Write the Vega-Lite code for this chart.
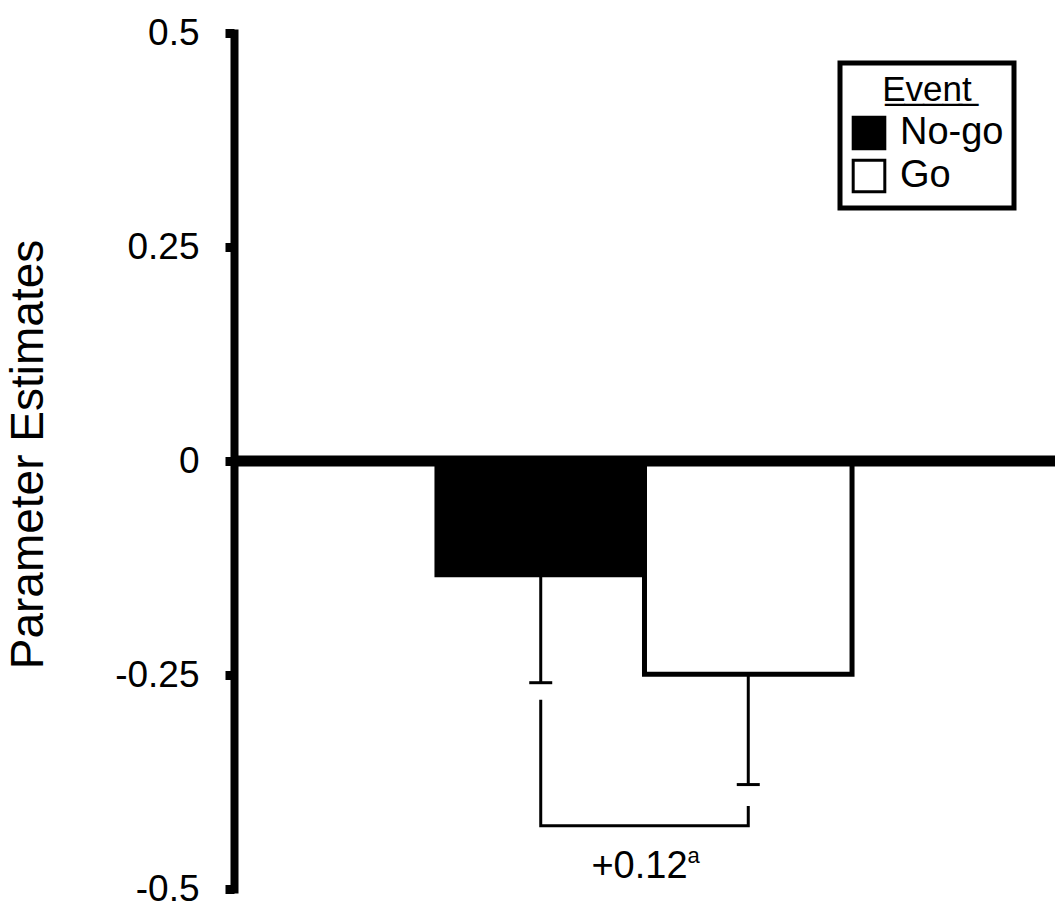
{
  "$schema": "https://vega.github.io/schema/vega-lite/v6.json",
  "width": 821,
  "height": 856,
  "autosize": {"type": "none"},
  "padding": {"left": 234, "top": 33, "right": 0, "bottom": 23},
  "background": "white",
  "config": {
    "font": "Liberation Sans",
    "view": {"stroke": null},
    "axis": {"grid": false},
    "legend": {"strokeWidth": 5}
  },
  "datasets": {
    "bars": [
      {"group": "A", "event": "No-go", "value": -0.133, "lower": -0.259},
      {"group": "A", "event": "Go", "value": -0.249, "lower": -0.378}
    ],
    "bracket": [
      {"group": "A", "event": "No-go", "y": -0.279, "ord": 1},
      {"group": "A", "event": "No-go", "y": -0.426, "ord": 2},
      {"group": "A", "event": "Go", "y": -0.426, "ord": 3},
      {"group": "A", "event": "Go", "y": -0.403, "ord": 4}
    ],
    "note": [
      {"group": "A", "label": "+0.12", "sup": "a"}
    ],
    "zero": [
      {"level": 0}
    ]
  },
  "layer": [
    {
      "data": {"name": "bars"},
      "mark": {"type": "bar", "stroke": "black", "strokeWidth": 5, "strokeJoin": "miter"},
      "encoding": {
        "x": {"field": "group", "type": "nominal", "axis": null, "scale": {"paddingInner": 0, "paddingOuter": 0.489}},
        "xOffset": {"field": "event", "type": "nominal", "sort": ["No-go", "Go"], "scale": {"paddingInner": 0, "paddingOuter": 0}},
        "y": {
          "field": "value",
          "type": "quantitative",
          "scale": {"domain": [-0.5, 0.5], "nice": false, "zero": false},
          "axis": {
            "values": [-0.5, -0.25, 0, 0.25, 0.5],
            "labelExpr": "'' + datum.value",
            "title": "Parameter Estimates",
            "titleFontSize": 46,
            "titleFontWeight": "normal",
            "titleColor": "black",
            "titleX": -192,
            "titleY": 421,
            "titleBaseline": "alphabetic",
            "titleAngle": -90,
            "labelFontSize": 37,
            "labelColor": "black",
            "labelPadding": 26,
            "domainColor": "black",
            "domainWidth": 8,
            "domainCap": "square",
            "tickColor": "black",
            "tickWidth": 9,
            "tickSize": 9
          }
        },
        "fill": {
          "field": "event",
          "type": "nominal",
          "scale": {"domain": ["No-go", "Go"], "range": ["black", "white"]},
          "legend": {
            "title": "E̲v̲e̲n̲t̲",
            "orient": "none",
            "legendX": 606,
            "legendY": 30,
            "strokeColor": "black",
            "padding": 10,
            "titleFontSize": 35,
            "titleFontWeight": "normal",
            "titleColor": "black",
            "titleAnchor": "middle",
            "titlePadding": 6,
            "labelFontSize": 38,
            "labelColor": "black",
            "labelOffset": 12,
            "symbolType": "square",
            "symbolSize": 1000,
            "symbolStrokeColor": "black",
            "symbolStrokeWidth": 3,
            "rowPadding": -1
          }
        }
      }
    },
    {
      "data": {"name": "zero"},
      "mark": {"type": "rule", "color": "black", "strokeWidth": 11},
      "encoding": {"y": {"field": "level", "type": "quantitative"}}
    },
    {
      "data": {"name": "bars"},
      "mark": {"type": "rule", "color": "black", "strokeWidth": 3},
      "encoding": {
        "x": {"field": "group", "type": "nominal"},
        "xOffset": {"field": "event", "type": "nominal", "sort": ["No-go", "Go"]},
        "y": {"field": "value", "type": "quantitative"},
        "y2": {"field": "lower"}
      }
    },
    {
      "data": {"name": "bars"},
      "mark": {"type": "tick", "color": "black", "opacity": 1, "size": 23, "thickness": 3, "orient": "horizontal"},
      "encoding": {
        "x": {"field": "group", "type": "nominal"},
        "xOffset": {"field": "event", "type": "nominal", "sort": ["No-go", "Go"]},
        "y": {"field": "lower", "type": "quantitative"}
      }
    },
    {
      "data": {"name": "bracket"},
      "mark": {"type": "line", "color": "black", "strokeWidth": 3, "strokeJoin": "miter"},
      "encoding": {
        "x": {"field": "group", "type": "nominal"},
        "xOffset": {"field": "event", "type": "nominal", "sort": ["No-go", "Go"]},
        "y": {"field": "y", "type": "quantitative"},
        "order": {"field": "ord", "type": "quantitative"}
      }
    },
    {
      "data": {"name": "note"},
      "mark": {"type": "text", "fontSize": 38, "color": "black", "baseline": "middle", "align": "center", "dx": -5},
      "encoding": {
        "x": {"field": "group", "type": "nominal"},
        "y": {"datum": -0.474},
        "text": {"field": "label"}
      }
    },
    {
      "data": {"name": "note"},
      "mark": {"type": "text", "fontSize": 22, "color": "black", "baseline": "middle", "align": "left", "dx": 43},
      "encoding": {
        "x": {"field": "group", "type": "nominal"},
        "y": {"datum": -0.462},
        "text": {"field": "sup"}
      }
    }
  ]
}
